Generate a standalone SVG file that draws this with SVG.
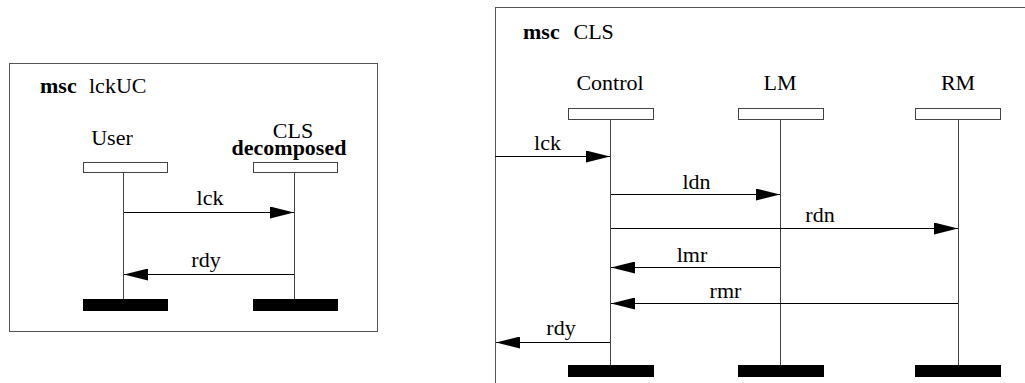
<svg xmlns="http://www.w3.org/2000/svg" width="1025" height="383" viewBox="0 0 1025 383" font-family="'Liberation Serif', 'DejaVu Serif', serif" font-size="22">
  <defs>
    <marker id="head" markerUnits="userSpaceOnUse" markerWidth="24" markerHeight="12" refX="24" refY="6" orient="auto">
      <path d="M0,0 L24,6 L0,12 Z" fill="#000"/>
    </marker>
  </defs>
  <style>
    .b { font-weight: bold; }
    .mid { text-anchor: middle; }
    .frame { fill: none; stroke: #555; stroke-width: 1; }
    .head { fill: #fff; stroke: #444; stroke-width: 1; }
    .life { stroke: #444; stroke-width: 1; fill: none; }
    .end { fill: #000; }
    .msg { stroke: #000; stroke-width: 1; fill: none; marker-end: url(#head); }
  </style>
  <rect width="1025" height="383" fill="#fff"/>

  <!-- MSC lckUC -->
  <g id="msc-lckUC">
    <rect class="frame" x="9.5" y="63.5" width="368" height="268"/>
    <text x="40" y="93"><tspan class="b">msc</tspan><tspan x="89">lckUC</tspan></text>
  </g>
  <g id="lckUC-User">
    <text class="mid" x="112" y="145">User</text>
    <rect class="head" x="83.5" y="162.5" width="84" height="10"/>
    <line class="life" x1="123.5" y1="173" x2="123.5" y2="299"/>
    <rect class="end" x="83" y="299" width="85" height="12"/>
  </g>
  <g id="lckUC-CLS">
    <text class="mid" x="293" y="138">CLS</text>
    <text class="mid b" x="289" y="155">decomposed</text>
    <rect class="head" x="253.5" y="162.5" width="84" height="10"/>
    <line class="life" x1="294.5" y1="173" x2="294.5" y2="299"/>
    <rect class="end" x="253" y="299" width="85" height="12"/>
  </g>

  <!-- MSC CLS -->
  <g id="msc-CLS">
    <rect class="frame" x="495.5" y="7.5" width="600" height="420"/>
    <text x="523" y="39"><tspan class="b">msc</tspan><tspan x="573.5">CLS</tspan></text>
  </g>
  <g id="CLS-Control">
    <text class="mid" x="610" y="90">Control</text>
    <rect class="head" x="568.5" y="108.5" width="85" height="11"/>
    <line class="life" x1="610.5" y1="119.5" x2="610.5" y2="365"/>
    <rect class="end" x="568" y="365" width="86" height="12"/>
  </g>
  <g id="CLS-LM">
    <text class="mid" x="780" y="90">LM</text>
    <rect class="head" x="738.5" y="108.5" width="85" height="11"/>
    <line class="life" x1="780.5" y1="119.5" x2="780.5" y2="365"/>
    <rect class="end" x="738" y="365" width="86" height="12"/>
  </g>
  <g id="CLS-RM">
    <text class="mid" x="958" y="90">RM</text>
    <rect class="head" x="915.5" y="108.5" width="85" height="11"/>
    <line class="life" x1="958.5" y1="119.5" x2="958.5" y2="365"/>
    <rect class="end" x="915" y="365" width="86" height="12"/>
  </g>

  <!-- messages -->
  <g id="connectors">
    <line class="msg" x1="124" y1="212.5" x2="294" y2="212.5"/>
    <text class="mid" x="210" y="205">lck</text>
    <line class="msg" x1="294" y1="274.5" x2="124" y2="274.5"/>
    <text class="mid" x="206" y="267">rdy</text>

    <line class="msg" x1="495" y1="156.5" x2="610" y2="156.5"/>
    <text class="mid" x="547.5" y="150">lck</text>
    <line class="msg" x1="611" y1="194.5" x2="780" y2="194.5"/>
    <text class="mid" x="696.5" y="189">ldn</text>
    <line class="msg" x1="611" y1="228.5" x2="958" y2="228.5"/>
    <text class="mid" x="820" y="222">rdn</text>
    <line class="msg" x1="780" y1="267.5" x2="611" y2="267.5"/>
    <text class="mid" x="692" y="261.5">lmr</text>
    <line class="msg" x1="958" y1="303.5" x2="611" y2="303.5"/>
    <text class="mid" x="725.5" y="297.5">rmr</text>
    <line class="msg" x1="610" y1="342.5" x2="496" y2="342.5"/>
    <text class="mid" x="561" y="335">rdy</text>
  </g>
</svg>
